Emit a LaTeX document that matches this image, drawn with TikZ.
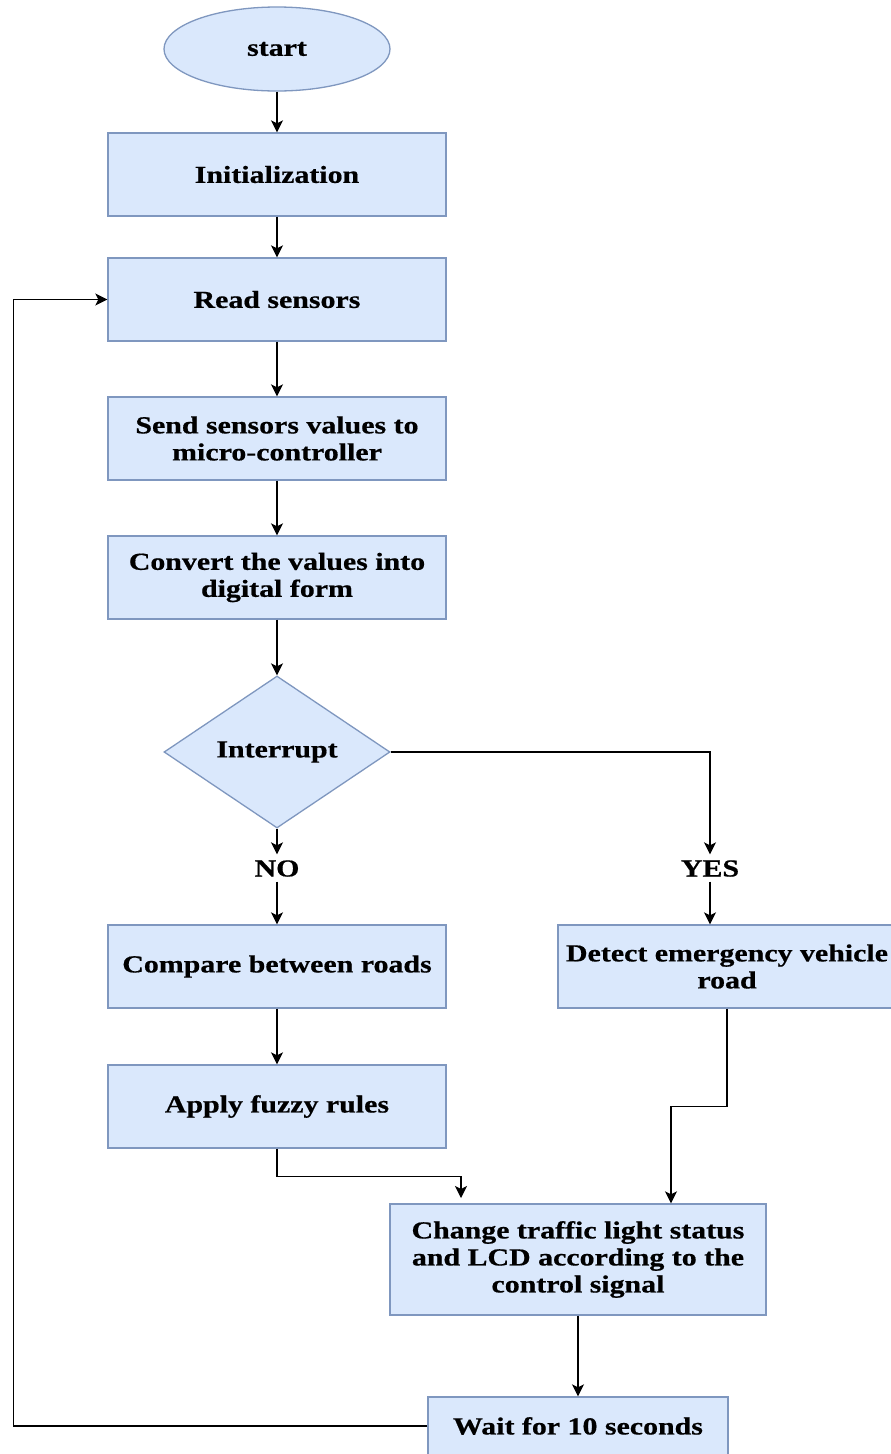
\documentclass[tikz,border=0pt]{standalone}
\usepackage{fontspec}
\setmainfont[FakeStretch=1.22,BoldFeatures={FakeBold=0.6}]{Liberation Serif}
\usetikzlibrary{shapes.geometric,arrows.meta}
\definecolor{boxfill}{HTML}{DAE8FC}
\definecolor{boxline}{HTML}{7F97BF}

\begin{document}
\begin{tikzpicture}[x=1pt,y=-1pt,
  every node/.style={font=\fontsize{24.5}{27}\selectfont\bfseries, align=center},
  box/.style={rectangle, draw=boxline, fill=boxfill, line width=1.3pt,
    minimum width=338pt, minimum height=83pt, inner sep=0pt},
  term/.style={ellipse, draw=boxline, fill=boxfill, line width=1.3pt,
    minimum width=226pt, minimum height=84pt, inner sep=0pt},
  decision/.style={diamond, draw=boxline, fill=boxfill, line width=1.3pt,
    aspect=1.487, minimum width=226pt, minimum height=152pt, inner sep=0pt},
  tag/.style={text height=17pt, text depth=0pt, inner ysep=5pt, inner xsep=2pt},
  flow/.style={line width=1.5pt, -{Stealth[length=12pt,width=12pt,inset=3pt]}}
]
\useasboundingbox[fill=white] (0,0) rectangle (891,1454);

% main column
\node[term] (start) at (277,49) {start};
\node[box] (init) at (277,174.5) {Initialization};
\node[box] (read) at (277,299.5) {Read sensors};
\node[box] (send) at (277,438.5) {Send sensors values to\\micro-controller};
\node[box] (conv) at (277,577.5) {Convert the values into\\digital form};
\node[decision] (intr) at (277,752) {Interrupt};
\node[tag] (no) at (277,868) {NO};
\node[tag] (yes) at (710,868) {YES};
\node[box] (cmp) at (277,966.5) {Compare between roads};
\node[box] (det) at (727,966.5) {Detect emergency vehicle\\road};
\node[box] (fuzzy) at (277,1106.5) {Apply fuzzy rules};
\node[box, minimum width=376pt, minimum height=111pt] (chg) at (578,1259.5)
  {Change traffic light status\\and LCD according to the\\control signal};
\node[box, minimum width=300pt, minimum height=58pt] (wait) at (578,1426) {Wait for 10 seconds};
\coordinate (fzend) at (461,1198);

% connectors
\draw[flow] (start) -- (init);
\draw[flow] (init) -- (read);
\draw[flow] (read) -- (send);
\draw[flow] (send) -- (conv);
\draw[flow] (conv) -- (intr);
\draw[flow] (intr.south) -- (no.north);
\draw[flow] (no.south) -- (cmp.north);
\draw[flow] (intr.east) -| (yes.north);
\draw[flow] (yes.south) -- (yes.south |- det.north);
\draw[flow] (cmp) -- (fuzzy);
\draw[flow] (fuzzy.south) -- ++(0,28) -| (fzend);
\draw[flow] (det.south) -- ++(0,98) -| ([xshift=93pt]chg.north);
\draw[flow] (chg) -- (wait);
\draw[flow] (wait.west) -- ++(-414,0) |- (read.west);
\end{tikzpicture}
\end{document}
